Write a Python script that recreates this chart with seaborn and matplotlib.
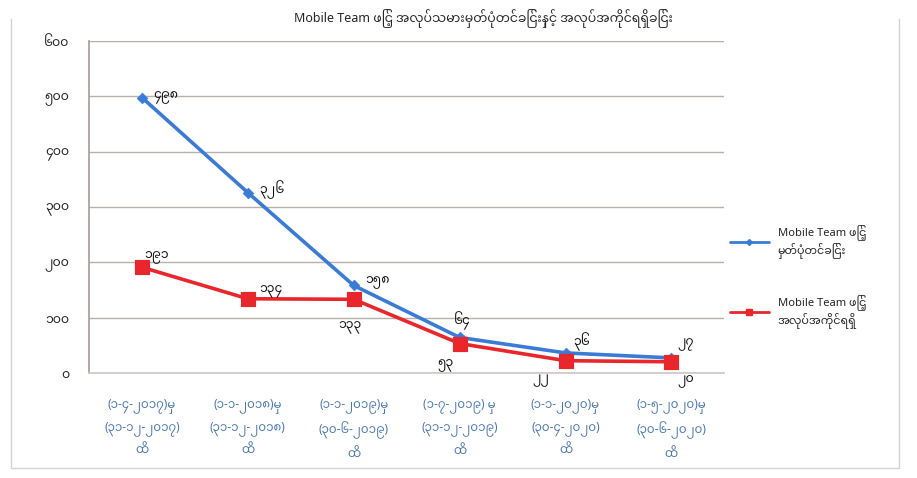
import matplotlib
matplotlib.use("Agg")
import matplotlib.pyplot as plt
from matplotlib import font_manager
from matplotlib.lines import Line2D
import seaborn as sns
import pandas as pd

# periods (x categories)
periods = [
    "(၁-၄-၂၀၁၇)မှ\n(၃၁-၁၂-၂၀၁၇)\nထိ",
    "(၁-၁-၂၀၁၈)မှ\n(၃၁-၁၂-၂၀၁၈)\nထိ",
    "(၁-၁-၂၀၁၉)မှ\n(၃၀-၆-၂၀၁၉)\nထိ",
    "(၁-၇-၂၀၁၉) မှ\n(၃၁-၁၂-၂၀၁၉)\nထိ",
    "(၁-၁-၂၀၂၀)မှ\n(၃၀-၄-၂၀၂၀)\nထိ",
    "(၁-၅-၂၀၂၀)မှ\n(၃၀-၆-၂၀၂၀)\nထိ",
]
registered = [498, 326, 158, 64, 36, 27]
employed = [191, 134, 133, 53, 22, 20]
series_names = ["Mobile Team ဖြင့်\nမှတ်ပုံတင်ခြင်း", "Mobile Team ဖြင့်\nအလုပ်အကိုင်ရရှိ"]
title = "Mobile Team ဖြင့် အလုပ်သမားမှတ်ပုံတင်ခြင်းနှင့် အလုပ်အကိုင်ရရှိခြင်း"
yticks = [0, 100, 200, 300, 400, 500, 600]

digits = "၀၁၂၃၄၅၆၇၈၉"
def mm(n):
    return "".join(digits[int(c)] for c in str(n))

sns.set_theme(style="white")
installed = {f.name for f in font_manager.fontManager.ttflist}
fams = [f for f in ["Noto Sans Myanmar", "Padauk", "Myanmar Text", "Noto Sans", "DejaVu Sans"] if f in installed]
plt.rcParams["font.family"] = fams

df = pd.DataFrame({
    "x": list(range(len(periods))) * 2,
    "value": registered + employed,
    "series": [series_names[0]] * len(periods) + [series_names[1]] * len(periods),
})

fig = plt.figure(figsize=(9.17, 4.78), dpi=100)
ax = fig.add_axes([0.097, 0.22, 0.693, 0.694])

blue = "#3a7bd5"
red = "#e8262b"
sns.lineplot(data=df, x="x", y="value", hue="series",
             palette=[blue, red], linewidth=2.6, ax=ax, legend=False)
sns.scatterplot(x=range(len(periods)), y=registered, marker="D", s=30, color=blue,
                edgecolor=blue, ax=ax, zorder=5)
sns.scatterplot(x=range(len(periods)), y=employed, marker="s", s=110, color=red,
                edgecolor=red, ax=ax, zorder=6)

# data labels
blue_off = [(8, 0), (8, 2), (8, 2), (-4, 12), (6, 8), (4, 10)]
red_off = [(2, 7), (8, 5), (-11, -20), (-16, -16), (-24, -14), (4, -14)]
for i, v in enumerate(registered):
    ax.annotate(mm(v), (i, v), xytext=blue_off[i], textcoords="offset points",
                fontsize=9, ha="left", va="center", color="#111")
for i, v in enumerate(employed):
    ax.annotate(mm(v), (i, v), xytext=red_off[i], textcoords="offset points",
                fontsize=9, ha="left", va="center", color="#111")

ax.set_xlim(-0.5, len(periods) - 0.5)
ax.set_ylim(0, 600)
ax.set_yticks(yticks)
ax.set_yticklabels([mm(t) for t in yticks], fontsize=9, color="#222")
ax.set_xticks(range(len(periods)))
ax.set_xticklabels(periods, fontsize=8.5, color="#4a78b0", linespacing=1.75)
ax.set_xlabel("")
ax.set_ylabel("")
ax.yaxis.grid(True, color="#b8b0ac", linewidth=1)
ax.set_axisbelow(True)
for s in ["top", "right"]:
    ax.spines[s].set_visible(False)
ax.spines["left"].set_color("#a89e9a")
ax.spines["bottom"].set_color("#d0c8c4")
ax.tick_params(axis="y", length=0, pad=14)
ax.tick_params(axis="x", length=0, pad=18)

ax.set_title(title, fontsize=9, fontweight="bold", loc="center", x=0.62, pad=14)

handles = [Line2D([], [], color=blue, lw=2, marker="D", ms=3),
           Line2D([], [], color=red, lw=2, marker="s", ms=5)]
fig.legend(handles, series_names, loc="center left", bbox_to_anchor=(0.785, 0.42),
           frameon=False, labelspacing=3.2, handlelength=3.5,
           prop={"weight": "bold", "size": 8})

# faint frame of the scanned page (no top edge)
frame = dict(color="#d4d4d4", lw=1, transform=fig.transFigure)
fig.add_artist(Line2D([0.012, 0.012], [0.02, 0.96], **frame))
fig.add_artist(Line2D([0.98, 0.98], [0.02, 0.96], **frame))
fig.add_artist(Line2D([0.012, 0.98], [0.02, 0.02], **frame))

fig.savefig("out.png", dpi=100)
